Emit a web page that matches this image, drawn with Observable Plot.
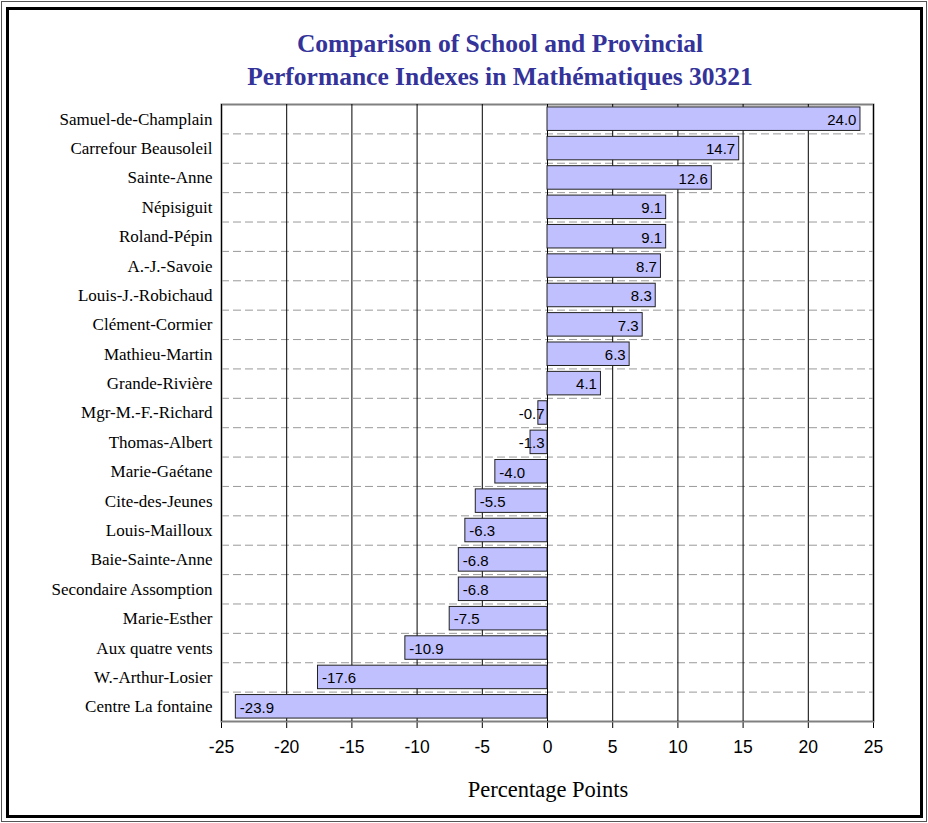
<!DOCTYPE html>
<html><head><meta charset="utf-8">
<script src="https://cdn.jsdelivr.net/npm/d3@7"></script>
<script src="https://cdn.jsdelivr.net/npm/@observablehq/plot@0.6"></script>
<style>
body{margin:0;background:#fff}
#wrap{position:relative;width:928px;height:823px;overflow:hidden;background:#fff}
.b1{position:absolute;left:1px;top:1px;width:926px;height:821px;border:1px solid #555;box-sizing:border-box}
.b2{position:absolute;left:6px;top:7px;right:5px;bottom:5px;border:3px solid #000;box-sizing:border-box}
#title{position:absolute;left:300px;width:400px;top:27px;text-align:center;white-space:nowrap;font-family:"Liberation Serif","Times New Roman",serif;font-weight:bold;font-size:25.5px;line-height:33px;color:#333399;display:flex;flex-direction:column;align-items:center}
#chart{position:absolute;left:0;top:95px}
#xlabel{position:absolute;left:398px;width:300px;top:777px;text-align:center;font-family:"Liberation Serif","Times New Roman",serif;font-size:22.5px;color:#000}
</style></head><body>
<div id="wrap">
<div class="b1"></div><div class="b2"></div>
<div id="title"><div>Comparison of School and Provincial</div><div>Performance Indexes in Mathématiques 30321</div></div>
<div id="chart"></div>
<div id="xlabel">Percentage Points</div>
</div>
<script>
const schools = ["Samuel-de-Champlain","Carrefour Beausoleil","Sainte-Anne","Népisiguit","Roland-Pépin","A.-J.-Savoie","Louis-J.-Robichaud","Clément-Cormier","Mathieu-Martin","Grande-Rivière","Mgr-M.-F.-Richard","Thomas-Albert","Marie-Gaétane","Cite-des-Jeunes","Louis-Mailloux","Baie-Sainte-Anne","Secondaire Assomption","Marie-Esther","Aux quatre vents","W.-Arthur-Losier","Centre La fontaine"];
const values = [24.0,14.7,12.6,9.1,9.1,8.7,8.3,7.3,6.3,4.1,-0.7,-1.3,-4.0,-5.5,-6.3,-6.8,-6.8,-7.5,-10.9,-17.6,-23.9];
const xTicks = [-25,-20,-15,-10,-5,0,5,10,15,20,25];

const data = schools.map((s,i)=>({school:s, value:values[i]}));
const W = 928, H = 728, mT = 9, mB = 102, mL = 221, mR = 55;
const step = (H - mT - mB) / schools.length;
const fmt = v => v.toFixed(1);

const chart = Plot.plot({
  width: W, height: H,
  marginTop: mT, marginBottom: mB, marginLeft: mL, marginRight: mR,
  style: {fontFamily: '"Liberation Sans", Arial, sans-serif', fontSize: "17.5px", background: "transparent", overflow: "visible"},
  x: {domain: [-25, 25], ticks: xTicks, tickSize: 7, tickPadding: 12, tickFormat: d => String(d), label: null},
  y: {domain: schools, axis: null, paddingInner: 0.2, paddingOuter: 0.1, round: false},
  marks: [
    Plot.frame({stroke: "#808080", strokeWidth: 2}),
    Plot.ruleY(schools.slice(0, -1), {y: d => d, dy: step / 2, stroke: "#999", strokeDasharray: "8,4", strokeWidth: 1}),
    Plot.ruleX(xTicks, {x: d => d, stroke: "#000", strokeWidth: 1}),
    Plot.barX(data, {y: "school", x: "value", fill: "#c0c0ff", stroke: "#222", strokeWidth: 1}),
    Plot.text(data.filter(d => d.value > 0), {y: "school", x: "value", text: d => fmt(d.value), textAnchor: "end", dx: -4, dy: 1, fontSize: 15, fill: "#000"}),
    Plot.text(data.filter(d => d.value < 0 && d.value <= -2), {y: "school", x: "value", text: d => fmt(d.value), textAnchor: "start", dx: 4, dy: 1, fontSize: 15, fill: "#000"}),
    Plot.text(data.filter(d => d.value < 0 && d.value > -2), {y: "school", x: () => 0, text: d => fmt(d.value), textAnchor: "end", dx: -3, dy: 1, fontSize: 15, fill: "#000"}),
    Plot.text(data, {y: "school", x: () => -25, text: "school", textAnchor: "end", dx: -9, fontFamily: '"Liberation Serif", "Times New Roman", serif', fontSize: 17, fill: "#000"})
  ]
});
document.getElementById("chart").appendChild(chart);
</script>
</body></html>
